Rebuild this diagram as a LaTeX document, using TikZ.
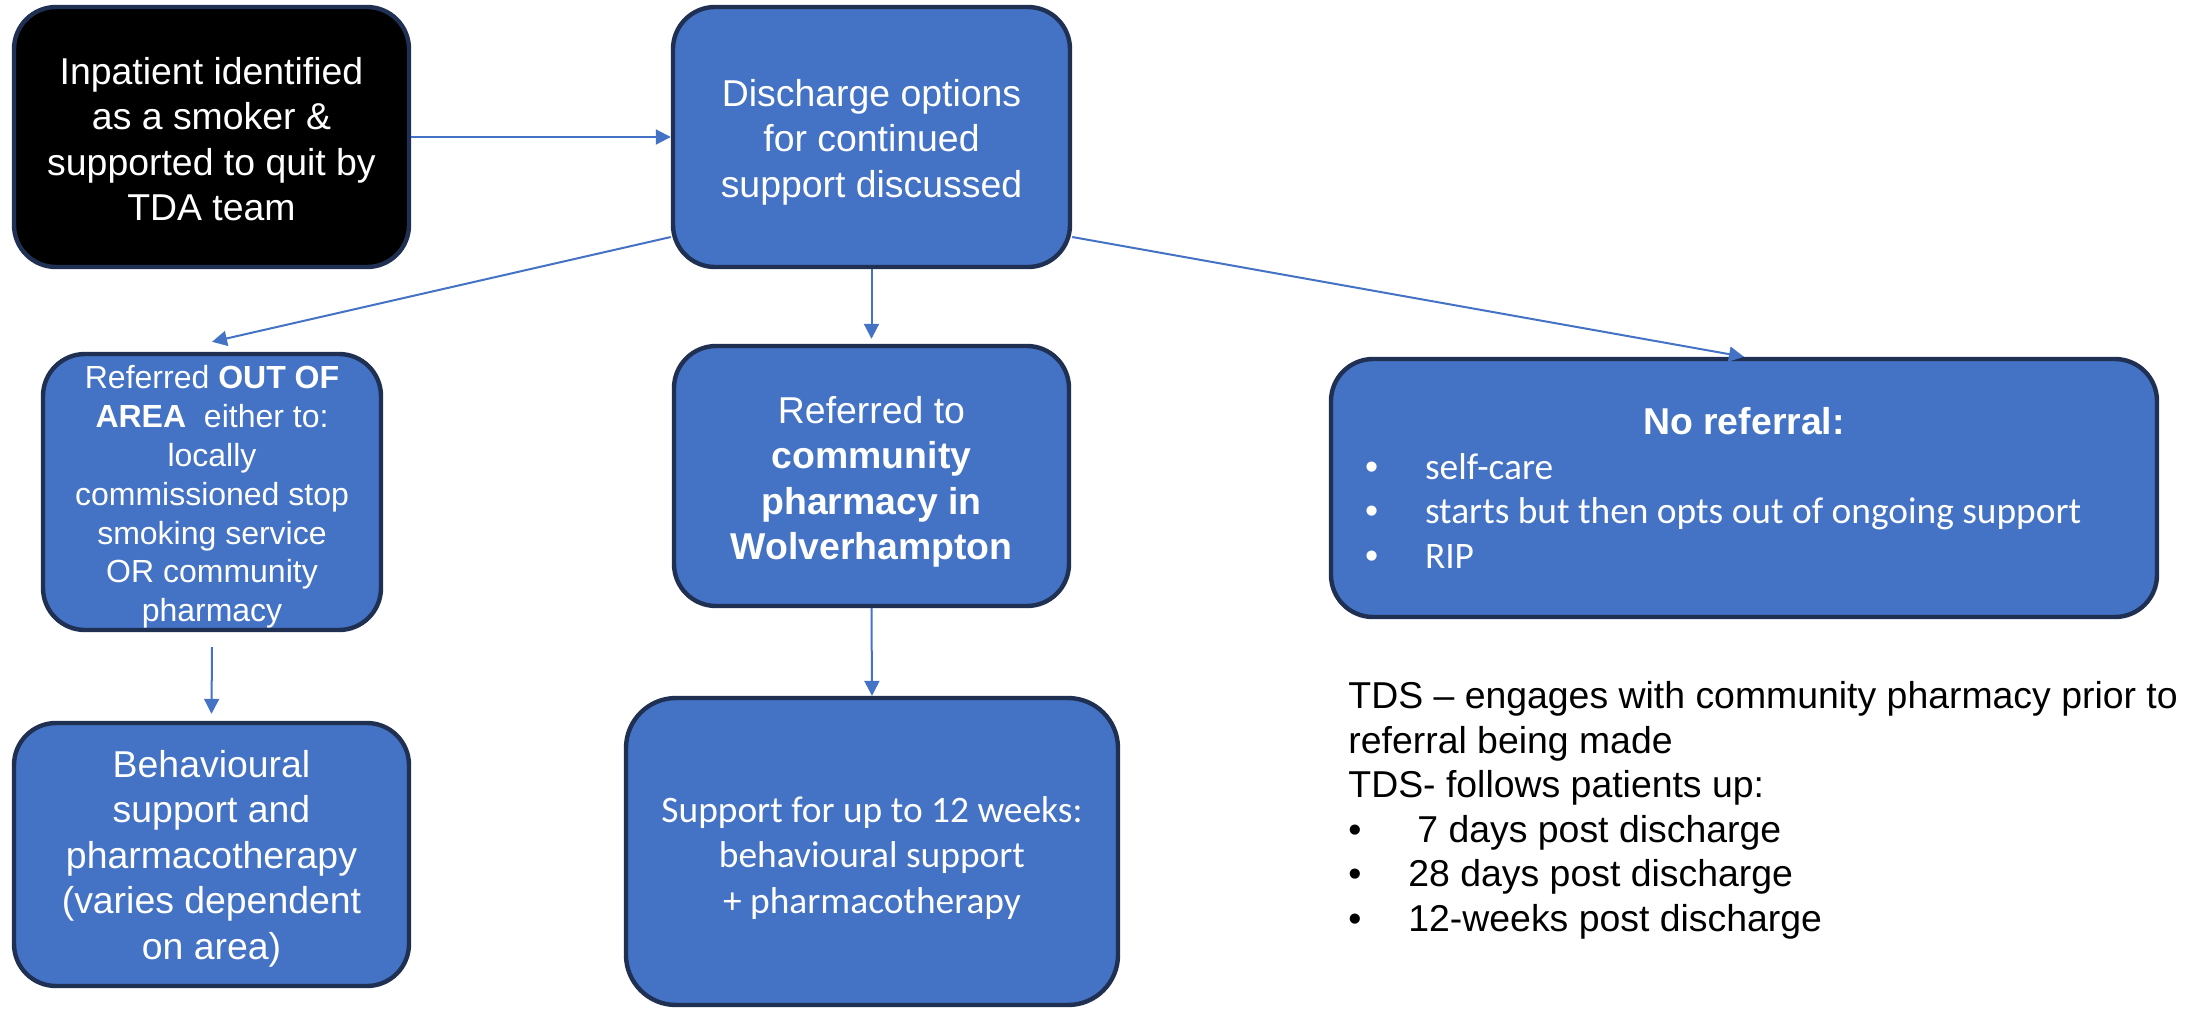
\documentclass[tikz,border=0pt]{standalone}
\usepackage{fontspec}
\setmainfont{Liberation Sans}
\newfontfamily\calibri{Carlito}
\usetikzlibrary{arrows.meta}
\definecolor{boxblue}{HTML}{4472C4}
\definecolor{boxline}{HTML}{1F3052}

\begin{document}
\begin{tikzpicture}[x=0.5pt, y=-0.5pt,
		bluebox/.style={draw=boxline, line width=2.2pt, fill=boxblue, rounded corners=21pt, text=white, align=center, inner sep=0pt, font=\fontsize{18.7}{22.7}\selectfont},
		blackbox/.style={bluebox, fill=black},
		flow/.style={draw=boxblue, line width=1pt, -{Triangle[length=7.5pt,width=7.5pt]}},
		notes/.style={align=left, inner sep=0pt, font=\fontsize{18.7}{22.3}\selectfont}]
	\useasboundingbox (0,0) rectangle (2192,1008);
	
	\node[blackbox, minimum width=197.5pt, minimum height=130pt] (inpatient) at (211.5,137)
		{\rule{0pt}{15.6pt}Inpatient identified\\ as a smoker \&\\ supported to quit by\\ TDA team};
	\node[bluebox, minimum width=198.5pt, minimum height=130pt] (discharge) at (871.5,137)
		{\rule{0pt}{18.6pt}Discharge options\\ for continued\\ support discussed};
	
	\node[bluebox, minimum width=169pt, minimum height=138pt, font=\fontsize{16}{19.4}\selectfont] (outarea) at (212,492)
		{\rule{0pt}{16.7pt}Referred \textbf{OUT OF}\\ \textbf{AREA}~ either to:\\ locally\\ commissioned stop\\ smoking service\\ OR community\\ pharmacy};
	\node[bluebox, minimum width=197.5pt, minimum height=131.5pt] (behav) at (211.5,854.5)
		{\rule{0pt}{17.6pt}Behavioural\\ support and\\ pharmacotherapy\\ (varies dependent\\ on area)};
	
	\node[bluebox, minimum width=197.5pt, minimum height=130pt] (community) at (871.5,476)
		{\rule{0pt}{19.2pt}Referred to\\ \textbf{community}\\ \textbf{pharmacy in}\\ \textbf{Wolverhampton}};
	\node[bluebox, minimum width=246pt, minimum height=153.5pt, rounded corners=25pt, font=\calibri\fontsize{18.7}{22.7}\selectfont] (support) at (872,851.5)
		{\rule{0pt}{19.2pt}Support for up to 12 weeks:\\ behavioural support\\ + pharmacotherapy};
	
	\node[bluebox, minimum width=413pt, minimum height=129pt, text width=413pt, align=flush left, font=\fontsize{18.7}{22.3}\selectfont] (noref) at (1744,488)
		{\makebox[413pt]{\textbf{No referral:}}\\
		\hspace*{17pt}\makebox[30pt][l]{•}{\calibri self-care}\\
		\hspace*{17pt}\makebox[30pt][l]{•}{\calibri starts but then opts out of ongoing support}\\
		\hspace*{17pt}\makebox[30pt][l]{•}{\calibri RIP}};
	
	\node[notes, anchor=north west] (tds) at (1348,681)
		{TDS – engages with community pharmacy prior to\\
		referral being made\\
		TDS- follows patients up:\\
		\makebox[30pt][l]{•}\hspace{4.5pt}7 days post discharge\\
		\makebox[30pt][l]{•}28 days post discharge\\
		\makebox[30pt][l]{•}12-weeks post discharge};
	
	\draw[flow] (inpatient) -- (discharge);
	\draw[flow] ([yshift=-50pt]discharge.west) -- ([yshift=5pt]outarea.north);
	\draw[flow] (discharge.south) -- ([yshift=2.5pt]community.north);
	\draw[flow] ([yshift=-50pt]discharge.east) -- (noref.north);
	\draw[flow] ([yshift=-7.5pt]outarea.south) -- ([yshift=3.5pt]behav.north);
	\draw[flow] (community.south) -- (support.north);
\end{tikzpicture}
\end{document}
